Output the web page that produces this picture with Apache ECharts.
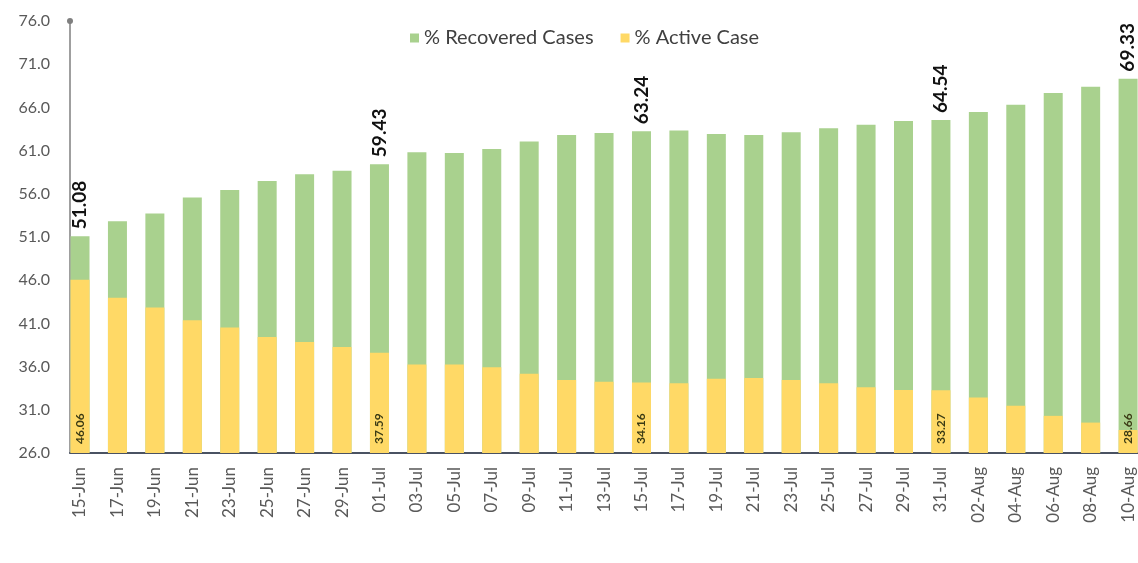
<!DOCTYPE html>
<html>
<head>
<meta charset="utf-8">
<script src="https://cdn.jsdelivr.net/npm/echarts@6/dist/echarts.min.js"></script>
<style>
html,body{margin:0;padding:0;background:#fff;}
#chart{width:1138px;height:563px;}
</style>
</head>
<body>
<div id="chart"></div>
<script>
var dates = ['15-Jun','17-Jun','19-Jun','21-Jun','23-Jun','25-Jun','27-Jun','29-Jun',
  '01-Jul','03-Jul','05-Jul','07-Jul','09-Jul','11-Jul','13-Jul','15-Jul','17-Jul','19-Jul',
  '21-Jul','23-Jul','25-Jul','27-Jul','29-Jul','31-Jul','02-Aug','04-Aug','06-Aug','08-Aug','10-Aug'];
var recovered = [51.08,52.83,53.73,55.56,56.44,57.49,58.27,58.66,59.43,60.80,60.72,61.19,62.04,62.82,
  63.05,63.24,63.32,62.93,62.82,63.13,63.60,63.98,64.44,64.54,65.46,66.31,67.68,68.38,69.33];
var active = [46.06,43.97,42.85,41.37,40.52,39.43,38.84,38.26,37.59,36.24,36.24,35.93,35.16,34.46,
  34.26,34.16,34.07,34.58,34.69,34.46,34.07,33.60,33.30,33.27,32.43,31.47,30.30,29.52,28.66];
var labeledDates = ['15-Jun','01-Jul','15-Jul','31-Jul','10-Aug'];
var yMin = 26, yMax = 76, yStep = 5;

var chart = echarts.init(document.getElementById('chart'));
function lbl(p){ return labeledDates.indexOf(dates[p.dataIndex]) >= 0 ? p.value.toFixed(2) : ''; }
chart.setOption({
  animation:false,
  backgroundColor:'#ffffff',
  textStyle:{fontFamily:'Lato'},
  legend:{
    left:405, top:23, icon:'rect', itemWidth:9, itemHeight:9, itemGap:27,
    textStyle:{fontSize:20, color:'#404040', fontFamily:'Lato'},
    data:['% Recovered Cases','% Active Case']
  },
  grid:[
    {left:61.3, width:1085.5, top:21, bottom:110, outerBoundsMode:'none', containLabel:false},
    {left:70, right:0, top:21, bottom:110, outerBoundsMode:'none', containLabel:false}
  ],
  xAxis:[
    {type:'category', data:dates, gridIndex:0, boundaryGap:true,
     axisLine:{show:false}, axisTick:{show:false},
     axisLabel:{rotate:90, margin:14, fontSize:17, color:'#595959', fontFamily:'Lato', interval:0}},
    {type:'value', gridIndex:1, min:0, max:1,
     axisLine:{show:true, onZero:false, lineStyle:{color:'#4a5262', width:2}},
     axisTick:{show:false}, axisLabel:{show:false}, splitLine:{show:false}}
  ],
  yAxis:[
    {type:'value', gridIndex:0, min:yMin, max:yMax, interval:yStep, offset:-8.7,
     axisLine:{show:true, symbol:['none','circle'], symbolSize:[6,6], lineStyle:{color:'#7f7f7f', width:1.5}},
     axisTick:{show:false}, splitLine:{show:false},
     axisLabel:{margin:20, fontSize:16, color:'#595959', fontFamily:'Lato', formatter:function(v){return v.toFixed(1);}}},
    {type:'value', gridIndex:1, show:false}
  ],
  series:[
    {name:'% Recovered Cases', type:'bar', data:recovered, barWidth:19, barGap:'-100%',
     itemStyle:{color:'#A9D18E'},
     label:{show:true, position:'top', rotate:90, align:'left', verticalAlign:'middle', distance:7,
       fontSize:19, fontWeight:'bold', color:'#111', fontFamily:'Lato', formatter:lbl}},
    {name:'% Active Case', type:'bar', data:active, barWidth:19, barGap:'-100%',
     itemStyle:{color:'#FFD966'},
     label:{show:true, position:'insideBottom', rotate:90, align:'left', verticalAlign:'middle', distance:9,
       fontSize:12, fontWeight:'bold', color:'#3a3a14', fontFamily:'Lato', formatter:lbl}}
  ]
});
</script>
</body>
</html>
